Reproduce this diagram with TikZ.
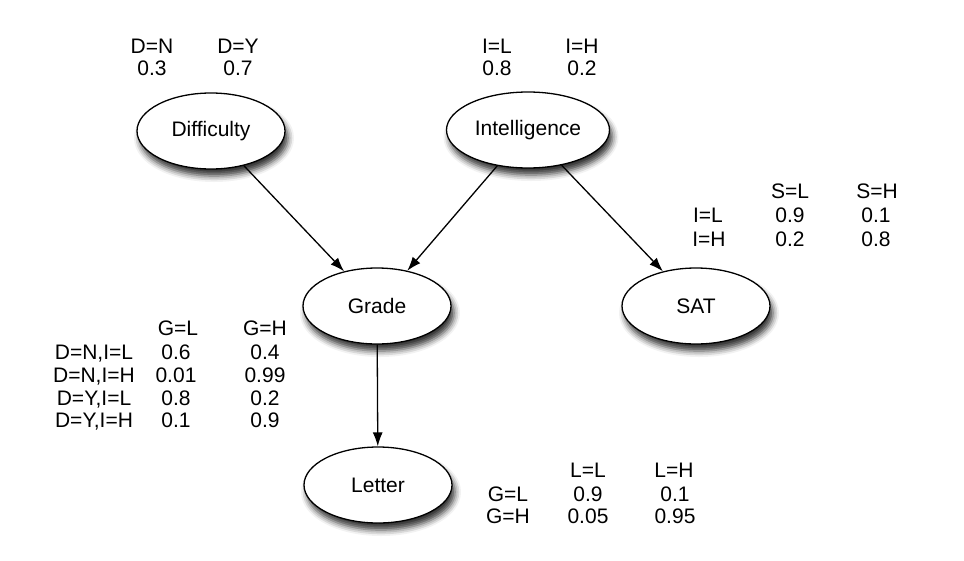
\documentclass[tikz,border=0pt]{standalone}
\usepackage{fontspec}
\setmainfont{Liberation Sans}
\usetikzlibrary{shapes.geometric,shadows.blur,arrows.meta}

\tikzset{
  var/.style={ellipse, draw, line width=1.3pt, fill=white,
    minimum width=148pt, minimum height=76pt,
    blur shadow={shadow xshift=3pt, shadow yshift=-7pt,
      shadow blur radius=6pt, shadow opacity=80}},
  prob/.style={inner sep=0pt, text height=15pt, text depth=0pt},
  arc/.style={-{Latex[length=14pt,width=10pt]}, line width=1.3pt}
}

\begin{document}
\begin{tikzpicture}[x=1pt, y=-1pt, font=\fontsize{21}{25}\selectfont]
    \useasboundingbox (0,0) rectangle (964,560);
    % Variables
    \node[var] (difficulty) at (211,131) {Difficulty};
    \node[var, minimum width=163pt] (intelligence) at (528,130) {Intelligence};
    \node[var] (grade) at (377,306) {Grade};
    \node[var] (sat) at (696,306) {SAT};
    \node[var] (letter) at (378,485) {Letter};
    % Aristas
    \draw[arc] (difficulty) -- (grade);
    \draw[arc] (intelligence) -- (grade);
    \draw[arc] (intelligence) -- (sat);
    \draw[arc] (grade) -- (letter);
    % Tabla de Difficulty
    \node[prob] (dn) at (152,46) {D=N};
    \node[prob] (dy) at (238,46) {D=Y};
    \node[prob] (pdn) at (152,68) {0.3};
    \node[prob] (pdy) at (238,68) {0.7};
    % Tabla de Intelligence
    \node[prob] (il) at (497,46) {I=L};
    \node[prob] (ih) at (582,46) {I=H};
    \node[prob] (pil) at (497,68) {0.8};
    \node[prob] (pih) at (582,68) {0.2};
    % Tabla de SAT
    \node[prob] (sl) at (790,191) {S=L};
    \node[prob] (sh) at (877,191) {S=H};
    \node[prob] (sil) at (708,215) {I=L};
    \node[prob] (sih) at (709,239) {I=H};
    \foreach \r/\y/\a/\b in {l/215/0.9/0.1, h/239/0.2/0.8} {
        \node[prob] (psl\r) at (790,\y) {\a};
        \node[prob] (psh\r) at (876,\y) {\b};
    }
    % Tabla de Grade
    \node[prob] (gl) at (178,328) {G=L};
    \node[prob] (gh) at (265,328) {G=H};
    \node[prob] (gnl) at (94,352) {D=N,I=L};
    \node[prob] (gnh) at (94,375) {D=N,I=H};
    \node[prob] (gyl) at (94,398) {D=Y,I=L};
    \node[prob] (gyh) at (94,420) {D=Y,I=H};
    \foreach \r/\y/\a/\b in {1/352/0.6/0.4, 2/375/0.01/0.99, 3/398/0.8/0.2, 4/420/0.1/0.9} {
        \node[prob] (pgl\r) at (176,\y) {\a};
        \node[prob] (pgh\r) at (265,\y) {\b};
    }
    % Tabla de Letter
    \node[prob] (ll) at (588,470) {L=L};
    \node[prob] (lh) at (674,470) {L=H};
    \node[prob] (lgl) at (508,494) {G=L};
    \node[prob] (lgh) at (508,516) {G=H};
    \foreach \r/\y/\a/\b in {l/494/0.9/0.1, h/516/0.05/0.95} {
        \node[prob] (pll\r) at (588,\y) {\a};
        \node[prob] (plh\r) at (675,\y) {\b};
    }
\end{tikzpicture}
\end{document}
